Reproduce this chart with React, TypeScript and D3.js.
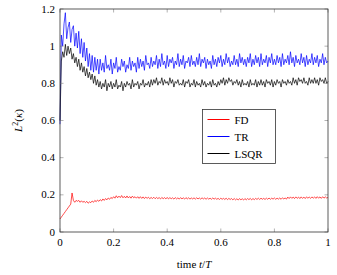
import { useEffect, useRef } from "react";
import * as d3 from "d3";

// time grid t/T, step 0.005
const time: number[] = d3.range(201).map((i) => i / 200);

const tr: number[] = [
  0.58, 1.06, 1.0, 1.12, 1.18, 1.04, 1.1, 1.13, 1.02, 1.09,
  1.11, 1.0, 1.07, 0.99, 1.08, 0.96, 1.04, 0.94, 1.02, 0.92,
  0.99, 0.89, 0.96, 0.87, 0.95, 0.86, 0.94, 0.87, 0.93, 0.85,
  0.93, 0.87, 0.91, 0.86, 0.95, 0.88, 0.9, 0.87, 0.93, 0.85,
  0.91, 0.88, 0.94, 0.86, 0.89, 0.87, 0.93, 0.89, 0.92, 0.86,
  0.9, 0.88, 0.94, 0.87, 0.92, 0.89, 0.91, 0.86, 0.94, 0.88,
  0.93, 0.89, 0.92, 0.87, 0.95, 0.9, 0.91, 0.88, 0.94, 0.89,
  0.92, 0.9, 0.95, 0.88, 0.93, 0.89, 0.96, 0.9, 0.92, 0.88,
  0.95, 0.89, 0.93, 0.91, 0.94, 0.88, 0.92, 0.9, 0.96, 0.89,
  0.93, 0.9, 0.95, 0.88, 0.92, 0.91, 0.94, 0.89, 0.95, 0.9,
  0.92, 0.89, 0.94, 0.9, 0.96, 0.89, 0.93, 0.91, 0.94, 0.88,
  0.93, 0.9, 0.92, 0.88, 0.95, 0.9, 0.93, 0.89, 0.94, 0.91,
  0.95, 0.89, 0.93, 0.9, 0.96, 0.91, 0.94, 0.89, 0.92, 0.9,
  0.95, 0.9, 0.93, 0.89, 0.96, 0.91, 0.94, 0.9, 0.93, 0.89,
  0.94, 0.91, 0.96, 0.89, 0.93, 0.9, 0.95, 0.91, 0.94, 0.89,
  0.96, 0.9, 0.93, 0.91, 0.95, 0.89, 0.94, 0.91, 0.96, 0.9,
  0.93, 0.9, 0.95, 0.91, 0.94, 0.89, 0.96, 0.9, 0.93, 0.91,
  0.95, 0.9, 0.97, 0.91, 0.94, 0.89, 0.95, 0.91, 0.93, 0.9,
  0.96, 0.91, 0.94, 0.89, 0.95, 0.9, 0.93, 0.91, 0.96, 0.9,
  0.94, 0.91, 0.95, 0.89, 0.93, 0.91, 0.96, 0.9, 0.94, 0.91,
  0.92,
];

const lsqr: number[] = [
  0.6, 0.92, 0.97, 0.94, 1.01, 0.95, 1.0, 0.96, 0.99, 0.93,
  0.96, 0.91, 0.94, 0.89, 0.93, 0.87, 0.91, 0.86, 0.89, 0.84,
  0.88, 0.83, 0.86, 0.82, 0.85, 0.8, 0.84, 0.79, 0.82, 0.78,
  0.81, 0.77, 0.8, 0.78, 0.82, 0.76, 0.8, 0.78, 0.81, 0.77,
  0.8, 0.78, 0.82, 0.77, 0.79, 0.78, 0.81, 0.76, 0.8, 0.78,
  0.81, 0.79, 0.8, 0.77, 0.82, 0.78, 0.8, 0.79, 0.81, 0.77,
  0.8, 0.79, 0.82, 0.78, 0.8, 0.79, 0.81, 0.78, 0.82, 0.79,
  0.82, 0.8, 0.83, 0.79, 0.81, 0.8, 0.83, 0.79, 0.82, 0.8,
  0.81, 0.79, 0.83, 0.8, 0.82, 0.78, 0.81, 0.8, 0.82, 0.79,
  0.8, 0.79, 0.82, 0.78, 0.81, 0.8, 0.82, 0.78, 0.8, 0.79,
  0.82, 0.78, 0.81, 0.79, 0.8, 0.78, 0.82, 0.79, 0.81, 0.78,
  0.8, 0.79, 0.81, 0.78, 0.82, 0.79, 0.8, 0.78, 0.81, 0.79,
  0.82, 0.8, 0.83, 0.79, 0.82, 0.8, 0.83, 0.81, 0.82, 0.79,
  0.81, 0.8, 0.82, 0.79, 0.81, 0.78, 0.82, 0.79, 0.8, 0.79,
  0.81, 0.78, 0.82, 0.79, 0.8, 0.79, 0.82, 0.78, 0.81, 0.79,
  0.82, 0.79, 0.81, 0.78, 0.82, 0.8, 0.81, 0.79, 0.82, 0.78,
  0.81, 0.79, 0.82, 0.8, 0.81, 0.78, 0.82, 0.8, 0.81, 0.79,
  0.82, 0.8, 0.81, 0.79, 0.83, 0.8, 0.82, 0.79, 0.83, 0.81,
  0.82, 0.8, 0.83, 0.8, 0.81, 0.79, 0.83, 0.8, 0.82, 0.8,
  0.83, 0.8, 0.82, 0.79, 0.83, 0.81, 0.82, 0.8, 0.83, 0.8,
  0.81,
];

const fd: number[] = [
  0.07, 0.08, 0.09, 0.1, 0.11, 0.12, 0.13, 0.14, 0.15, 0.21,
  0.17, 0.16, 0.17, 0.165, 0.17, 0.16, 0.168, 0.16, 0.165, 0.158,
  0.165, 0.155, 0.162, 0.158, 0.167, 0.16, 0.17, 0.163, 0.172, 0.165,
  0.174, 0.167, 0.178, 0.17, 0.18, 0.173, 0.183, 0.176, 0.186, 0.18,
  0.19, 0.182, 0.195, 0.184, 0.193, 0.185, 0.196, 0.184, 0.192, 0.183,
  0.194, 0.183, 0.191, 0.182, 0.193, 0.184, 0.19, 0.182, 0.19, 0.181,
  0.19, 0.181, 0.189, 0.18, 0.188, 0.181, 0.187, 0.179, 0.186, 0.18,
  0.187, 0.179, 0.186, 0.18, 0.185, 0.178, 0.186, 0.179, 0.185, 0.178,
  0.186, 0.178, 0.185, 0.179, 0.184, 0.177, 0.185, 0.178, 0.184, 0.177,
  0.185, 0.178, 0.184, 0.177, 0.185, 0.178, 0.184, 0.177, 0.183, 0.178,
  0.184, 0.177, 0.184, 0.178, 0.183, 0.177, 0.184, 0.178, 0.183, 0.176,
  0.183, 0.177, 0.182, 0.176, 0.183, 0.177, 0.182, 0.176, 0.181, 0.175,
  0.182, 0.176, 0.181, 0.175, 0.182, 0.174, 0.181, 0.175, 0.18, 0.173,
  0.18, 0.173, 0.179, 0.172, 0.18, 0.173, 0.179, 0.172, 0.18, 0.173,
  0.18, 0.174, 0.181, 0.173, 0.18, 0.174, 0.181, 0.175, 0.182, 0.175,
  0.182, 0.176, 0.181, 0.175, 0.182, 0.176, 0.183, 0.176, 0.182, 0.177,
  0.183, 0.176, 0.182, 0.177, 0.183, 0.176, 0.184, 0.178, 0.183, 0.177,
  0.188, 0.18, 0.189, 0.181, 0.188, 0.18, 0.189, 0.181, 0.188, 0.18,
  0.189, 0.181, 0.188, 0.18, 0.189, 0.182, 0.188, 0.181, 0.189, 0.182,
  0.189, 0.181, 0.19, 0.182, 0.189, 0.181, 0.19, 0.182, 0.189, 0.183,
  0.186,
];

const xTicks = [0, 0.2, 0.4, 0.6, 0.8, 1];
const yTicks = [0, 0.2, 0.4, 0.6, 0.8, 1, 1.2];

const series = [
  { name: "FD", values: fd, color: "#ff0000" },
  { name: "TR", values: tr, color: "#0000ff" },
  { name: "LSQR", values: lsqr, color: "#000000" },
];

const App = () => {
  const svgRef = useRef<SVGSVGElement | null>(null);

  useEffect(() => {
    if (!svgRef.current) return;
    const svg = d3.select(svgRef.current);
    svg.selectAll("*").remove();

    const width = 337;
    const height = 275;
    const margin = { top: 9, right: 9, bottom: 43, left: 60 };

    const x = d3.scaleLinear().domain([0, 1]).range([margin.left, width - margin.right]);
    const y = d3.scaleLinear().domain([0, 1.2]).range([height - margin.bottom, margin.top]);

    const x0 = x(0), x1 = x(1), y0 = y(0), y1 = y(1.2);

    const line = d3.line<number>()
      .x((_, i) => x(time[i]))
      .y((d) => y(d));

    const plot = svg.append("g");
    series.forEach((s) => {
      plot.append("path")
        .datum(s.values)
        .attr("fill", "none")
        .attr("stroke", s.color)
        .attr("stroke-width", 0.7)
        .attr("stroke-linejoin", "round")
        .attr("d", line);
    });

    // ticks (inside, on all four sides)
    const tl = 3.5;
    const ticks = svg.append("g").attr("stroke", "#808080").attr("stroke-width", 0.6);
    xTicks.forEach((t) => {
      ticks.append("line").attr("x1", x(t)).attr("x2", x(t)).attr("y1", y0).attr("y2", y0 - tl);
      ticks.append("line").attr("x1", x(t)).attr("x2", x(t)).attr("y1", y1).attr("y2", y1 + tl);
    });
    yTicks.forEach((t) => {
      ticks.append("line").attr("x1", x0).attr("x2", x0 + tl).attr("y1", y(t)).attr("y2", y(t));
      ticks.append("line").attr("x1", x1).attr("x2", x1 - tl).attr("y1", y(t)).attr("y2", y(t));
    });

    // frame
    svg.append("rect")
      .attr("x", x0).attr("y", y1)
      .attr("width", x1 - x0).attr("height", y0 - y1)
      .attr("fill", "none").attr("stroke", "#333").attr("stroke-width", 0.8);

    // tick labels
    svg.append("g").selectAll("text").data(xTicks).join("text")
      .attr("x", (d) => x(d)).attr("y", y0 + 14)
      .attr("text-anchor", "middle")
      .attr("font-size", 11)
      .text((d) => d3.format("")(d));

    svg.append("g").selectAll("text").data(yTicks).join("text")
      .attr("x", x0 - 5).attr("y", (d) => y(d) + 3.5)
      .attr("text-anchor", "end")
      .attr("font-size", 11)
      .text((d) => d3.format("")(d));

    // axis labels
    const xl = svg.append("text")
      .attr("x", (x0 + x1) / 2).attr("y", 268)
      .attr("text-anchor", "middle")
      .attr("font-size", 11);
    xl.append("tspan").text("time ");
    xl.append("tspan").attr("font-style", "italic").text("t");
    xl.append("tspan").text("/");
    xl.append("tspan").attr("font-style", "italic").text("T");

    const yl = svg.append("text")
      .attr("transform", `translate(22,${(y0 + y1) / 2}) rotate(-90)`)
      .attr("text-anchor", "middle")
      .attr("font-size", 11);
    yl.append("tspan").attr("font-style", "italic").text("L");
    yl.append("tspan").attr("font-size", 8).attr("dy", -4).text("2");
    yl.append("tspan").attr("dy", 4).text("(");
    yl.append("tspan").attr("font-style", "italic").text("κ");
    yl.append("tspan").text(")");

    // legend
    const lg = svg.append("g").attr("transform", "translate(202.5,109.5)");
    lg.append("rect")
      .attr("width", 73).attr("height", 54)
      .attr("fill", "white").attr("stroke", "#333").attr("stroke-width", 0.8);
    series.forEach((s, i) => {
      const cy = 10 + i * 17;
      lg.append("line")
        .attr("x1", 5).attr("x2", 27).attr("y1", cy).attr("y2", cy)
        .attr("stroke", s.color).attr("stroke-width", 1);
      lg.append("text")
        .attr("x", 32).attr("y", cy + 4)
        .attr("font-size", 11)
        .text(s.name);
    });
  }, []);

  return (
    <svg
      ref={svgRef}
      width={337}
      height={275}
      style={{
        position: "absolute",
        left: 0,
        top: 0,
        background: "white",
        fontFamily: "'Liberation Serif', 'DejaVu Serif', serif",
      }}
    />
  );
};

export default App;
